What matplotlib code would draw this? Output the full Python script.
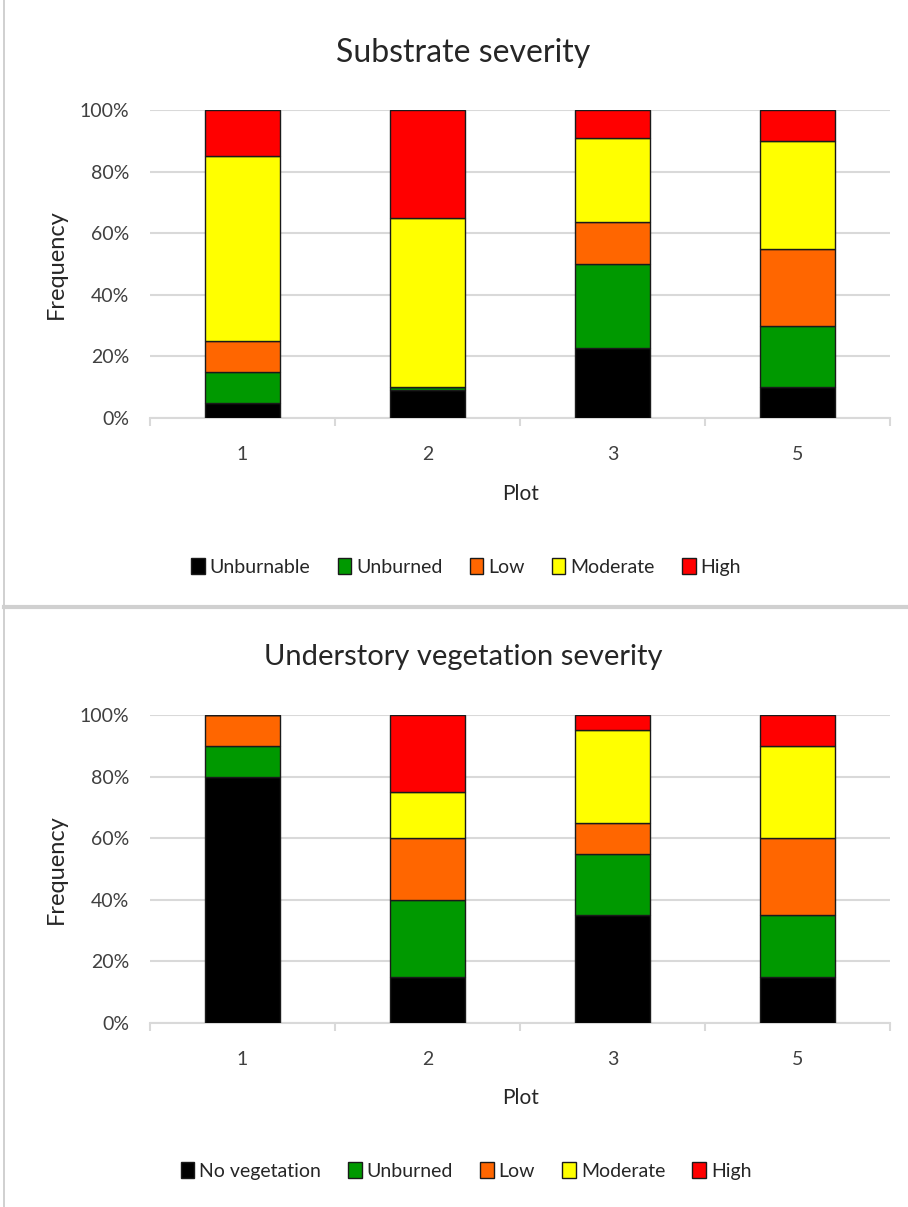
import matplotlib
matplotlib.use("Agg")
import matplotlib.pyplot as plt
from matplotlib.patches import Patch
from matplotlib.lines import Line2D
import numpy as np

plots = ["1", "2", "3", "5"]

# Substrate severity (percent)
sub_labels = ["Unburnable", "Unburned", "Low", "Moderate", "High"]
sub_unburnable = [5, 9, 22.7, 10]
sub_unburned = [10, 1, 27.3, 20]
sub_low = [10, 0, 13.6, 25]
sub_moderate = [60, 55, 27.3, 35]
sub_high = [15, 35, 9.1, 10]

# Understory vegetation severity (percent)
veg_labels = ["No vegetation", "Unburned", "Low", "Moderate", "High"]
veg_novegetation = [80, 15, 35, 15]
veg_unburned = [10, 25, 20, 20]
veg_low = [10, 20, 10, 25]
veg_moderate = [0, 15, 30, 30]
veg_high = [0, 25, 5, 10]

colors = ["#000000", "#009900", "#FF6600", "#FFFF00", "#FF0000"]

plt.rcParams['font.family'] = ['Lato', 'DejaVu Sans']

W, H = 908, 1207
fig = plt.figure(figsize=(W / 100, H / 100), dpi=100)

def px_axes(left, top, right, bottom):
    return fig.add_axes([left / W, 1 - bottom / H, (right - left) / W, (bottom - top) / H])

def draw_panel(ax, series, labels, title, title_y, title_size, plot_y, legend_y):
    x = np.arange(len(plots))
    bottom = np.zeros(len(plots))
    for vals, c, lab in zip(series, colors, labels):
        v = np.array(vals, dtype=float)
        ax.bar(x, v, 0.41, bottom=bottom, color=c, edgecolor="#1a1a1a",
               linewidth=1.0, zorder=3, label=lab)
        bottom += v
    ax.set_xlim(-0.5, len(plots) - 0.5)
    ax.set_ylim(0, 100)
    ax.set_yticks(np.arange(0, 101, 20))
    ax.set_yticklabels([f"{v}%" for v in range(0, 101, 20)], fontsize=14, color="#404040")
    ax.set_xticks(x)
    ax.set_xticklabels(plots, fontsize=14, color="#404040")
    ax.tick_params(axis="y", length=0, pad=15)
    ax.tick_params(axis="x", length=0, pad=20)
    ax.set_xticks(np.arange(-0.5, len(plots), 1.0), minor=True)
    ax.tick_params(axis="x", which="minor", length=6, color="#D9D9D9", width=1.5)
    ax.grid(axis="y", color="#D9D9D9", linewidth=1.5, zorder=0)
    for s in ["top", "right", "left"]:
        ax.spines[s].set_visible(False)
    ax.spines["bottom"].set_color("#D9D9D9")
    ax.spines["bottom"].set_linewidth(1.5)
    ax.set_ylabel("Frequency", fontsize=17, color="#262626", labelpad=9)
    fig.text(463 / W, 1 - title_y / H, title, ha="center", va="center", fontsize=title_size,
             color="#262626")
    fig.text(521 / W, 1 - plot_y / H, "Plot", ha="center", va="center", fontsize=15,
             color="#262626")
    handles = [Patch(facecolor=c, edgecolor="#1a1a1a", linewidth=1.0) for c in colors]
    fig.legend(handles, labels, loc="center", bbox_to_anchor=(466 / W, 1 - legend_y / H),
               ncol=5, frameon=False, fontsize=14, handlelength=0.7, handleheight=0.9,
               handletextpad=0.25, columnspacing=1.4, labelcolor="#262626")

ax1 = px_axes(150, 110, 890, 418)
draw_panel(ax1, [sub_unburnable, sub_unburned, sub_low, sub_moderate, sub_high],
           sub_labels, "Substrate severity", 53, 23, 494, 567)

ax2 = px_axes(150, 715, 890, 1023)
draw_panel(ax2, [veg_novegetation, veg_unburned, veg_low, veg_moderate, veg_high],
           veg_labels, "Understory vegetation severity", 657, 21, 1098, 1171)

# panel borders
fig.add_artist(Line2D([4 / W, 4 / W], [0, 1], color="#C8C8C8", linewidth=1.2))
fig.add_artist(Line2D([4 / W, 1], [1 - 607 / H, 1 - 607 / H], color="#D0D0D0", linewidth=3))

fig.savefig("out.png", dpi=100)
